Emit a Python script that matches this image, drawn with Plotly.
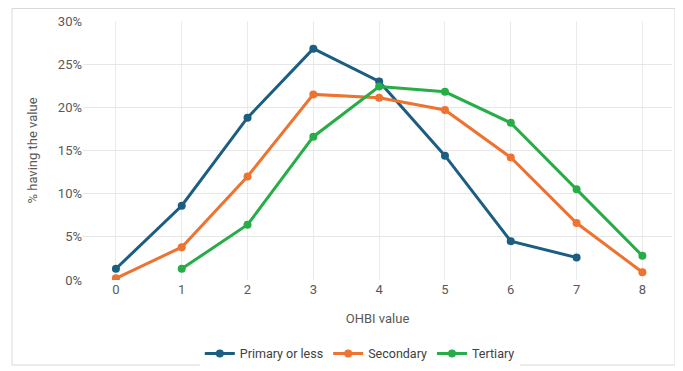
import plotly.graph_objects as go

x_vals = [0, 1, 2, 3, 4, 5, 6, 7, 8]
primary = [1.3, 8.6, 18.8, 26.8, 23.0, 14.4, 4.5, 2.6, None]
secondary = [0.2, 3.8, 12.0, 21.5, 21.1, 19.7, 14.2, 6.6, 0.9]
tertiary = [None, 1.3, 6.4, 16.6, 22.4, 21.8, 18.2, 10.5, 2.8]
series_names = ["Primary or less", "Secondary", "Tertiary"]
colors = ["#1B5E82", "#EE7230", "#27AD48"]
y_ticks = [0, 5, 10, 15, 20, 25, 30]

# page body has an 8px margin, so the figure is laid out 8px in from the window edge
W, H = 675, 363
L, R, T, B = 75, 11, 13, 91

fig = go.Figure()
for name, vals, c in zip(series_names, [primary, secondary, tertiary], colors):
    fig.add_trace(go.Scatter(
        x=x_vals, y=[v / 100 if v is not None else None for v in vals],
        mode="lines+markers", name=name,
        line=dict(color=c, width=3), marker=dict(color=c, size=8),
        connectgaps=False,
    ))

pw, ph = W - L - R, H - T - B
fig.add_shape(type="rect", xref="paper", yref="paper",
              x0=(4 - L) / pw, x1=(667 - L) / pw,
              y0=(H - B - 357) / ph, y1=(H - B - 0.5) / ph,
              line=dict(color="#D9D9D9", width=1), layer="below")

fig.update_layout(
    width=W, height=H, margin=dict(l=L, r=R, t=T, b=B, autoexpand=False),
    paper_bgcolor="white", plot_bgcolor="white",
    font=dict(family="Roboto, Open Sans, sans-serif", color="#595959", size=13),
    showlegend=True,
    legend=dict(orientation="h", x=0.47, xanchor="center", y=-0.285, yanchor="middle",
                font=dict(size=12.5, color="#404040"), itemwidth=30, tracegroupgap=0),
    xaxis=dict(range=[-0.5, 8.45], tickmode="array", tickvals=x_vals, automargin=False,
               showgrid=True, gridcolor="#EBEBEB", zeroline=False, showline=False,
               title=dict(text="OHBI value", font=dict(size=13, color="#595959"), standoff=17),
               tickfont=dict(size=13, color="#595959")),
    yaxis=dict(range=[0, 0.3], tickvals=[v / 100 for v in y_ticks], tickformat=".0%",
               automargin=False,
               showgrid=True, gridcolor="#E6E6E6", zeroline=False, showline=False,
               title=dict(text="% having the value", font=dict(size=13, color="#595959"), standoff=17),
               tickfont=dict(size=13, color="#595959"), ticksuffix="  "),
)
fig.write_html("out.html")
